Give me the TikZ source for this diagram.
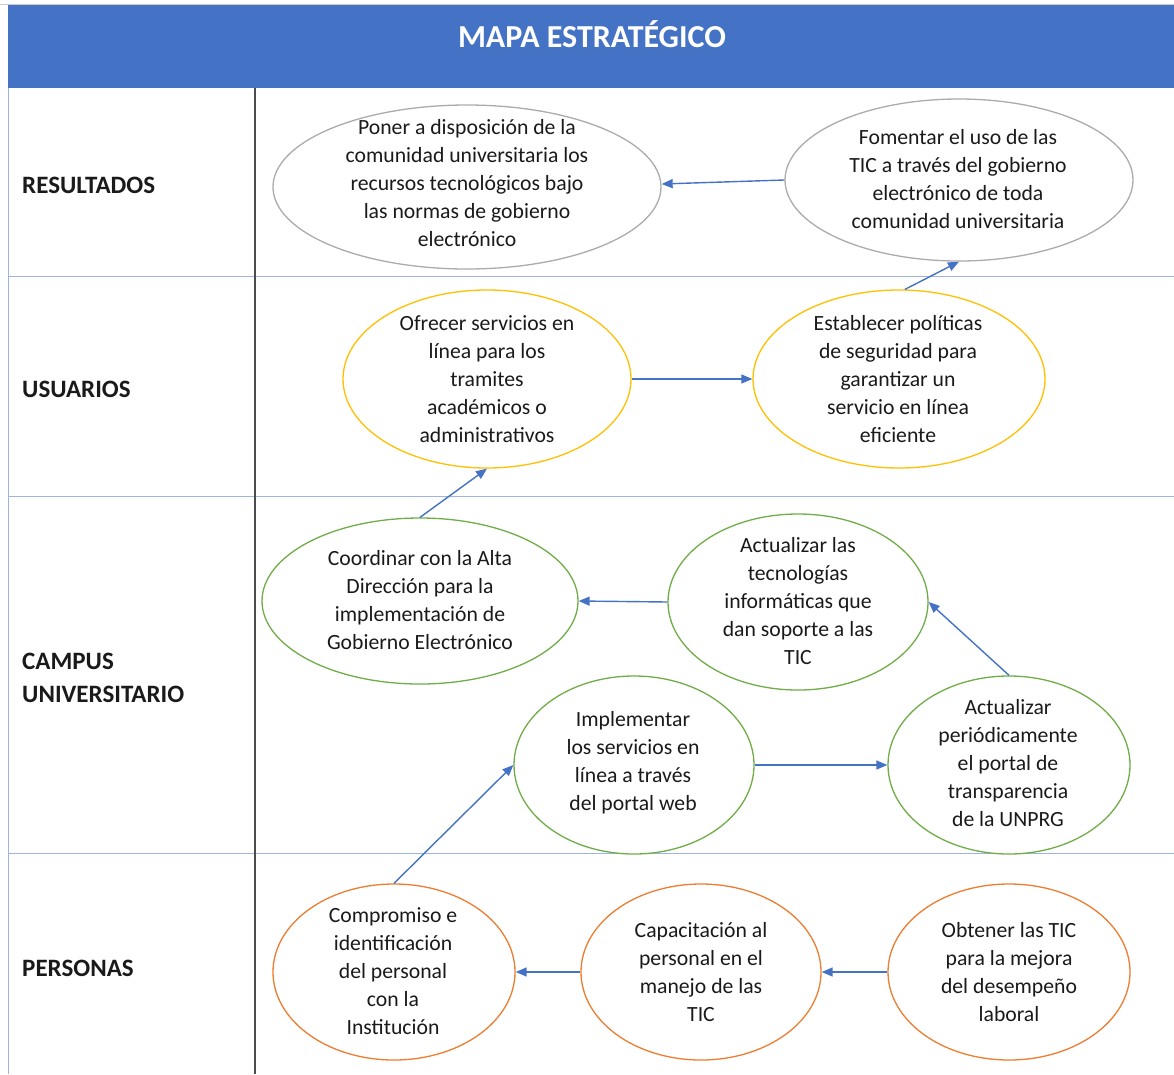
\documentclass[tikz,border=0pt]{standalone}
\usepackage{fontspec}
\setmainfont{Carlito}
\usetikzlibrary{shapes.geometric,arrows.meta}
\definecolor{hdr}{HTML}{4472C4}
\definecolor{gridb}{HTML}{9DB5E0}
\definecolor{ograd}{HTML}{ABABAB}
\definecolor{oyel}{HTML}{FFC000}
\definecolor{ogrn}{HTML}{70AD47}
\definecolor{oorg}{HTML}{ED7D31}
\definecolor{arr}{HTML}{4472C4}
\definecolor{txt}{HTML}{1A1A1A}
\tikzset{
  ell/.style={ellipse, draw=#1, line width=1.3pt, inner sep=0pt, fill=white},
  etext/.style={align=center, text=txt, font=\fontsize{21.7}{28}\selectfont, inner sep=0pt},
  rowlab/.style={anchor=west, align=left, text=txt, font=\fontsize{25}{33}\selectfont\bfseries, inner sep=0pt},
  con/.style={draw=arr, line width=1.4pt, -{Triangle[length=11pt,width=9pt]}},
  gline/.style={draw=gridb, line width=1pt}
}
\begin{document}
\begin{tikzpicture}[x=1pt,y=-1pt]
\useasboundingbox (0,0) rectangle (1174,1074);
\fill[white] (0,0) rectangle (1174,1074);
% header
\draw[draw=gray!40, line width=1pt] (0,4) -- (1174,4);
\fill[hdr] (8,5) rectangle (1174,88);
\node[text=white, font=\fontsize{32}{34}\selectfont\bfseries, inner sep=0pt] (title) at (592,34) {MAPA ESTRATÉGICO};
% grid
\draw[gline] (8,88) -- (8,1074);
\draw[gline] (8,276) -- (1174,276);
\draw[gline] (8,496) -- (1174,496);
\draw[gline] (8,853) -- (1174,853);
\draw[draw=black!70, line width=1.8pt] (255,88) -- (255,1074);
% row labels
\node[rowlab] (r1) at (22,185) {RESULTADOS};
\node[rowlab] (r2) at (22,389) {USUARIOS};
\node[rowlab] (r3) at (22,678) {CAMPUS\\UNIVERSITARIO};
\node[rowlab] (r4) at (22,968) {PERSONAS};
% ellipses
\node[ell=ograd, minimum width=388pt, minimum height=164pt] (e1) at (467,187) {};
\node[ell=ograd, minimum width=348pt, minimum height=162pt] (e2) at (959,180) {};
\node[ell=oyel, minimum width=288pt, minimum height=178pt] (e3) at (487,379) {};
\node[ell=oyel, minimum width=292pt, minimum height=178pt] (e4) at (899,379) {};
\node[ell=ogrn, minimum width=316pt, minimum height=166pt] (e5) at (420,601) {};
\node[ell=ogrn, minimum width=260pt, minimum height=176pt] (e6) at (798,602) {};
\node[ell=ogrn, minimum width=240pt, minimum height=178pt] (e7) at (634,765) {};
\node[ell=ogrn, minimum width=242pt, minimum height=178pt] (e8) at (1009,765) {};
\node[ell=oorg, minimum width=242pt, minimum height=176pt] (e9) at (394,972) {};
\node[ell=oorg, minimum width=240pt, minimum height=176pt] (e10) at (701,972) {};
\node[ell=oorg, minimum width=242pt, minimum height=176pt] (e11) at (1009,972) {};
% texts
\node[etext] (t1) at (467,183) {Poner a disposición de la\\comunidad universitaria los\\recursos tecnológicos bajo\\las normas de gobierno\\electrónico};
\node[etext] (t2) at (958,179) {Fomentar el uso de las\\TIC a través del gobierno\\electrónico de toda\\comunidad universitaria};
\node[etext] (t3) at (487,379) {Ofrecer servicios en\\línea para los\\tramites\\académicos o\\administrativos};
\node[etext] (t4) at (898,379) {Establecer políticas\\de seguridad para\\garantizar un\\servicio en línea\\eficiente};
\node[etext] (t5) at (420,600) {Coordinar con la Alta\\Dirección para la\\implementación de\\Gobierno Electrónico};
\node[etext] (t6) at (798,601) {Actualizar las\\tecnologías\\informáticas que\\dan soporte a las\\TIC};
\node[etext] (t7) at (633,763) {Implementar\\los servicios en\\línea a través\\del portal web};
\node[etext] (t8) at (1008,763) {Actualizar\\periódicamente\\el portal de\\transparencia\\de la UNPRG};
\node[etext] (t9) at (393,971) {Compromiso e\\identificación\\del personal\\con la\\Institución};
\node[etext] (t10) at (701,972) {Capacitación al\\personal en el\\manejo de las\\TIC};
\node[etext] (t11) at (1009,972) {Obtener las TIC\\para la mejora\\del desempeño\\laboral};
% connectors
\draw[con] (e2.west) -- ([yshift=3pt]e1.east);
\draw[con] ([xshift=6pt]e4.north) -- (e2.south);
\draw[con] (e3.east) -- (e4.west);
\draw[con] (e5.north) -- (e3.south);
\draw[con] (e6.west) -- (e5.east);
\draw[con] (e8.north) -- (e6.east);
\draw[con] (e7.east) -- (e8.west);
\draw[con] (e9.north) -- (e7.west);
\draw[con] (e10.west) -- (e9.east);
\draw[con] (e11.west) -- (e10.east);
\end{tikzpicture}
\end{document}
